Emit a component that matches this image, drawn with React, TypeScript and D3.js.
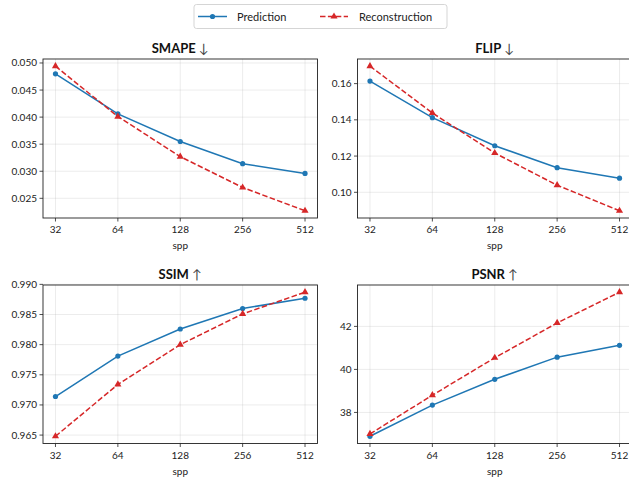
import React from "react";
import * as d3 from "d3";

const spp = [32, 64, 128, 256, 512];
const sppLabels = ["32", "64", "128", "256", "512"];

const smapePred = [0.0480, 0.0406, 0.0355, 0.0314, 0.0296];
const smapeRecon = [0.0494, 0.0401, 0.0327, 0.0270, 0.0227];
const flipPred = [0.1614, 0.1412, 0.1257, 0.1136, 0.1078];
const flipRecon = [0.1696, 0.1438, 0.1217, 0.1039, 0.0898];
const ssimPred = [0.9714, 0.9781, 0.9826, 0.9860, 0.9877];
const ssimRecon = [0.9648, 0.9734, 0.9800, 0.9851, 0.9887];
const psnrPred = [36.89, 38.34, 39.54, 40.57, 41.12];
const psnrRecon = [37.0, 38.8, 40.54, 42.16, 43.59];

const smapeTicks = [0.025, 0.03, 0.035, 0.04, 0.045, 0.05];
const flipTicks = [0.1, 0.12, 0.14, 0.16];
const ssimTicks = [0.965, 0.97, 0.975, 0.98, 0.985, 0.99];
const psnrTicks = [38, 40, 42];

const titles = ["SMAPE", "FLIP", "SSIM", "PSNR"];
const arrows = ["↓", "↓", "↑", "↑"];
const seriesNames = ["Prediction", "Reconstruction"];

const BLUE = "#1f77b4";
const RED = "#d62728";
const FONT = "Lato, 'Open Sans', sans-serif";

const panels = [
  { title: titles[0], arrow: arrows[0], pred: smapePred, recon: smapeRecon, ticks: smapeTicks, fmt: ".3f", box: [43, 317.5, 59, 218] },
  { title: titles[1], arrow: arrows[1], pred: flipPred, recon: flipRecon, ticks: flipTicks, fmt: ".2f", box: [357.5, 632, 59, 218] },
  { title: titles[2], arrow: arrows[2], pred: ssimPred, recon: ssimRecon, ticks: ssimTicks, fmt: ".3f", box: [43, 317.5, 285, 443.5] },
  { title: titles[3], arrow: arrows[3], pred: psnrPred, recon: psnrRecon, ticks: psnrTicks, fmt: "d", box: [357.5, 632, 285, 443.5] },
];

function Panel({ p }: { p: any }) {
  const [x0, x1, y0, y1] = p.box;
  const lo = Math.log2(spp[0]);
  const hi = Math.log2(spp[spp.length - 1]);
  const pad = (hi - lo) * 0.05;
  const x = d3.scaleLog().base(2).domain([Math.pow(2, lo - pad), Math.pow(2, hi + pad)]).range([x0, x1]);
  const all = [...p.pred, ...p.recon];
  const mn = d3.min(all) as number;
  const mx = d3.max(all) as number;
  const yp = (mx - mn) * 0.05;
  const y = d3.scaleLinear().domain([mn - yp, mx + yp]).range([y1, y0]);
  const fmt = d3.format(p.fmt);
  const line = d3.line<number>().x((_, i) => x(spp[i])).y((d) => y(d));
  const tri = d3.symbol().type(d3.symbolTriangle).size(22)();
  return (
    <g>
      {spp.map((s) => (
        <line key={"gx" + s} x1={x(s)} x2={x(s)} y1={y0} y2={y1} stroke="#b0b0b0" strokeOpacity={0.3} strokeWidth={0.8} />
      ))}
      {p.ticks.map((t: number) => (
        <line key={"gy" + t} x1={x0} x2={x1} y1={y(t)} y2={y(t)} stroke="#b0b0b0" strokeOpacity={0.3} strokeWidth={0.8} />
      ))}
      <path d={line(p.pred) as string} fill="none" stroke={BLUE} strokeWidth={1.5} />
      <path d={line(p.recon) as string} fill="none" stroke={RED} strokeWidth={1.5} strokeDasharray="5.5,2.4" />
      {p.pred.map((v: number, i: number) => (
        <circle key={"pc" + i} cx={x(spp[i])} cy={y(v)} r={2.6} fill={BLUE} />
      ))}
      {p.recon.map((v: number, i: number) => (
        <path key={"rt" + i} d={tri} transform={`translate(${x(spp[i])},${y(v)})`} fill={RED} />
      ))}
      <rect x={x0} y={y0} width={x1 - x0} height={y1 - y0} fill="none" stroke="#222" strokeWidth={0.9} />
      {spp.map((s, i) => (
        <g key={"tx" + s}>
          <line x1={x(s)} x2={x(s)} y1={y1} y2={y1 + 3.5} stroke="#222" strokeWidth={0.8} />
          <text x={x(s)} y={y1 + 15} textAnchor="middle" fontSize={10} fill="#222">{sppLabels[i]}</text>
        </g>
      ))}
      {p.ticks.map((t: number) => (
        <g key={"ty" + t}>
          <line x1={x0} x2={x0 - 3.5} y1={y(t)} y2={y(t)} stroke="#222" strokeWidth={0.8} />
          <text x={x0 - 6} y={y(t) + 3.5} textAnchor="end" fontSize={10} fill="#222">{fmt(t)}</text>
        </g>
      ))}
      <text x={(x0 + Math.min(x1, 632)) / 2} y={y1 + 31} textAnchor="middle" fontSize={10} fill="#222">spp</text>
      <text x={(x0 + x1) / 2} y={y0 - 6.5} textAnchor="middle" fontSize={13} fill="#111">
        <tspan fontWeight="bold">{p.title}</tspan>
        <tspan fontWeight="normal" fill="#444"> {p.arrow}</tspan>
      </text>
    </g>
  );
}

export default function App() {
  return (
    <svg width={629} height={479} style={{ position: "absolute", left: 0, top: 0, fontFamily: FONT, background: "#fff" }} overflow="hidden">
      <rect x={0} y={0} width={629} height={479} fill="#fff" />
      {panels.map((p, i) => (
        <Panel key={i} p={p} />
      ))}
      <g>
        <rect x={194} y={4.5} width={253} height={24} rx={2.5} fill="#fff" stroke="#d0d0d0" strokeWidth={0.9} />
        <line x1={198} x2={227} y1={16.5} y2={16.5} stroke={BLUE} strokeWidth={1.5} />
        <circle cx={212.5} cy={16.5} r={2.6} fill={BLUE} />
        <text x={237} y={20.5} fontSize={11} fill="#222">{seriesNames[0]}</text>
        <line x1={320} x2={348} y1={16.5} y2={16.5} stroke={RED} strokeWidth={1.5} strokeDasharray="5.5,2.4" />
        <path d={d3.symbol().type(d3.symbolTriangle).size(22)() as string} transform="translate(334,16.5)" fill={RED} />
        <text x={359} y={20.5} fontSize={11} fill="#222">{seriesNames[1]}</text>
      </g>
    </svg>
  );
}
